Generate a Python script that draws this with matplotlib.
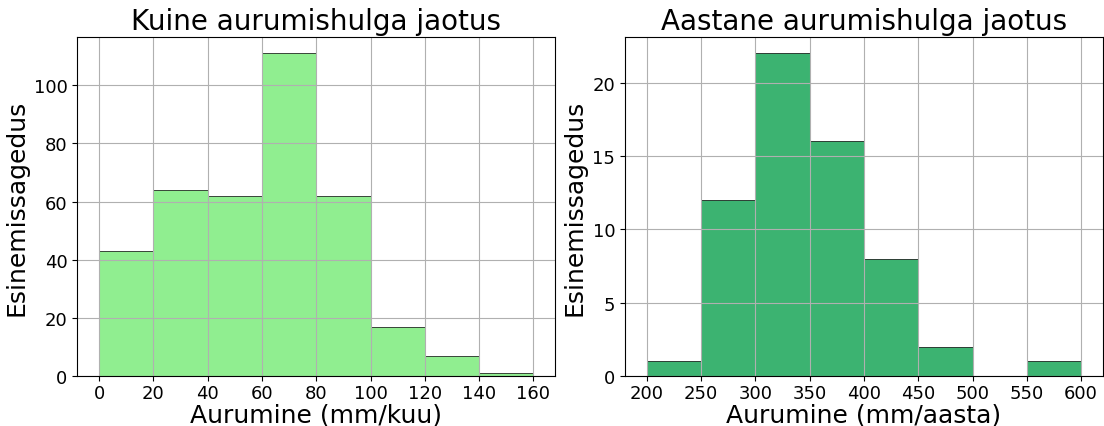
import numpy as np
import matplotlib.pyplot as plt

# monthly evaporation histogram
kuu_bins = [0, 20, 40, 60, 80, 100, 120, 140, 160]
kuu_counts = [43, 64, 62, 111, 62, 17, 7, 1]

# yearly evaporation histogram
aasta_bins = [200, 250, 300, 350, 400, 450, 500, 550, 600]
aasta_counts = [1, 12, 22, 16, 8, 2, 0, 1]

fig, axes = plt.subplots(1, 2, figsize=(11.04, 4.27), dpi=100)

ax = axes[0]
ax.hist(kuu_bins[:-1], bins=kuu_bins, weights=kuu_counts,
        color='lightgreen', edgecolor='black', linewidth=0.5)
ax.set_title('Kuine aurumishulga jaotus', fontsize=20)
ax.set_xlabel('Aurumine (mm/kuu)', fontsize=18, labelpad=0)
ax.set_ylabel('Esinemissagedus', fontsize=18)
ax.set_xticks(kuu_bins)
ax.tick_params(labelsize=13)
ax.tick_params(axis='x', pad=2.5)
ax.grid(True)

ax = axes[1]
ax.hist(aasta_bins[:-1], bins=aasta_bins, weights=aasta_counts,
        color='mediumseagreen', edgecolor='black', linewidth=0.5)
ax.set_title('Aastane aurumishulga jaotus', fontsize=20)
ax.set_xlabel('Aurumine (mm/aasta)', fontsize=18, labelpad=0)
ax.set_ylabel('Esinemissagedus', fontsize=18)
ax.set_xticks(aasta_bins)
ax.tick_params(labelsize=13)
ax.tick_params(axis='x', pad=2.5)
ax.grid(True)

plt.subplots_adjust(left=0.07, right=0.999, top=0.911, bottom=0.117, wspace=0.146)
plt.savefig('out.png')
